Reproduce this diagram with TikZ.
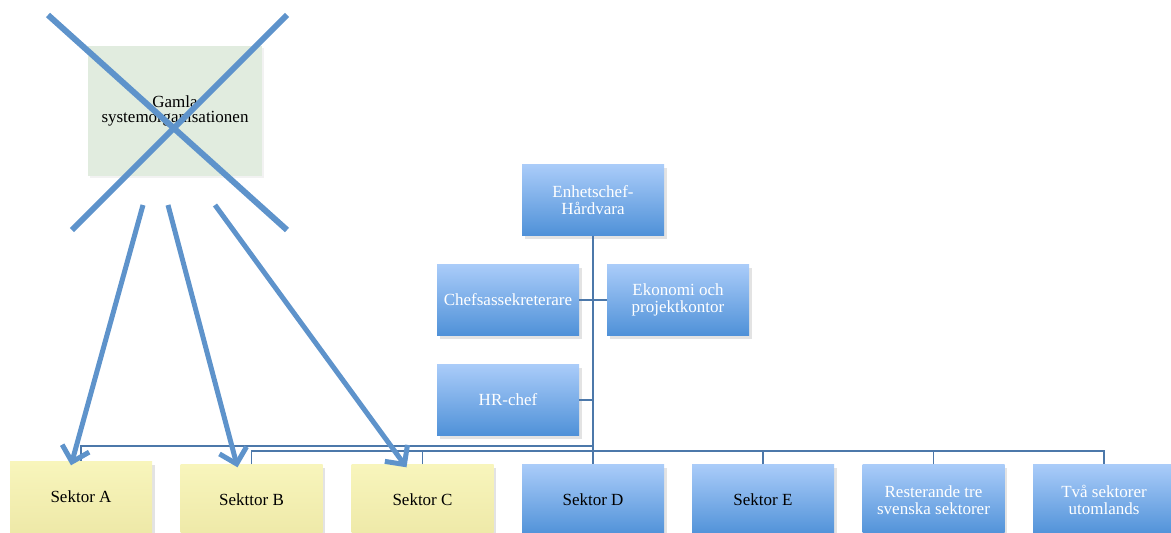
\documentclass[tikz,border=0pt]{standalone}
\usepackage{fontspec}
\setmainfont{Liberation Serif}
\usetikzlibrary{arrows.meta,shadows,calc}
\definecolor{bluetop}{HTML}{AACCF9}
\definecolor{bluebot}{HTML}{4F91D8}
\definecolor{yeltop}{HTML}{F8F5BC}
\definecolor{yelbot}{HTML}{EEE9A8}
\definecolor{conncol}{HTML}{4C78AA}
\definecolor{xblue}{HTML}{5E93CB}
\definecolor{greenfill}{HTML}{E1ECDF}
\begin{document}
\begin{tikzpicture}[x=1pt,y=-1pt,
  box/.style={minimum width=142pt,minimum height=71pt,inner sep=1pt,align=center,
    font=\fontsize{17}{16.5}\selectfont,
    drop shadow={opacity=0.22,shadow xshift=2.5pt,shadow yshift=-3pt}},
  bluebox/.style={box,top color=bluetop,bottom color=bluebot,text=white},
  yelbox/.style={box,top color=yeltop,bottom color=yelbot,text=black},
  greenbox/.style={minimum width=174pt,minimum height=130pt,inner sep=1pt,align=center,
    fill=greenfill,font=\fontsize{17}{15.5}\selectfont,
    drop shadow={opacity=0.1,shadow xshift=1.5pt,shadow yshift=-1.5pt}},
  conn/.style={draw=conncol,line width=1.6pt},
  xline/.style={draw=xblue,line width=6pt},
  bigarrow/.style={draw=xblue,line width=5pt,-{Straight Barb[length=14pt,width=28pt]}}
]
\useasboundingbox (0,0) rectangle (1171,533);

% old organisation
\node[greenbox] (old) at (175,111) {Gamla\\systemorganisationen};

% new organisation
\node[bluebox] (enh) at (593,200) {Enhetschef-\\Hårdvara};
\node[bluebox] (chef) at (508,300) {Chefsassekreterare};
\node[bluebox] (eko) at (678,300) {Ekonomi och\\projektkontor};
\node[bluebox] (hr) at (508,400) {HR-chef};

\node[yelbox] (sa) at (81,497) {Sektor A};
\node[yelbox] (sb) at (251.5,500) {Sekttor B};
\node[yelbox] (sc) at (422.5,500) {Sektor C};
\node[bluebox,text=black] (sd) at (593,500) {Sektor D};
\node[bluebox,text=black] (se) at (763,500) {Sektor E};
\node[bluebox] (sr) at (933.5,500) {Resterande tre\\svenska sektorer};
\node[bluebox] (st) at (1104,500) {Två sektorer\\utomlands};

% connectors
\coordinate (busA) at (593,446);
\coordinate (bus) at (593,451);
\draw[conn] (enh.south) -- (sd.north);
\draw[conn] (chef.east) -- (eko.west);
\draw[conn] (hr.east) -- (hr.east -| enh.south);
\draw[conn] (busA) -| (sa.north);
\draw[conn] (sb.north) |- (bus) -| (st.north);
\draw[conn] (sc.north) -- (sc.north |- bus);
\draw[conn] (se.north) -- (se.north |- bus);
\draw[conn] (sr.north) -- (sr.north |- bus);

% cross over old organisation
\draw[xline] (48,15) -- (287,230);
\draw[xline] (287,15) -- (72,230);

% arrows
\coordinate (a1) at (143,205);
\coordinate (a2) at (168,205);
\coordinate (a3) at (215,205);
\coordinate (ta) at ($(sa.north)+(-10,4)$);
\coordinate (tb) at ($(sb.north)+(-14,3)$);
\coordinate (tc) at ($(sc.north)+(-16,3)$);
\draw[bigarrow] (a1) -- (ta);
\draw[bigarrow] (a2) -- (tb);
\draw[bigarrow] (a3) -- (tc);
\end{tikzpicture}
\end{document}
